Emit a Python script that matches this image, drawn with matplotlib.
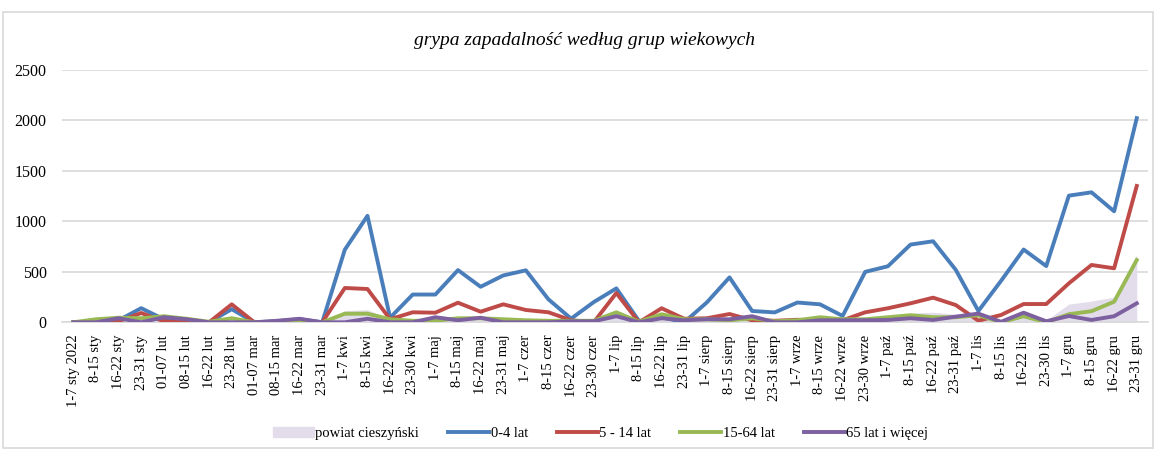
import matplotlib.pyplot as plt
from matplotlib.patches import Rectangle
from matplotlib.lines import Line2D

plt.rcParams['font.family'] = ['Liberation Serif', 'DejaVu Serif']

weeks = ["1-7 sty 2022", "8-15 sty", "16-22 sty", "23-31 sty", "01-07 lut", "08-15 lut",
         "16-22 lut", "23-28 lut", "01-07 mar", "08-15 mar", "16-22 mar", "23-31 mar",
         "1-7 kwi", "8-15 kwi", "16-22 kwi", "23-30 kwi", "1-7 maj", "8-15 maj",
         "16-22 maj", "23-31 maj", "1-7 czer", "8-15 czer", "16-22 czer", "23-30 czer",
         "1-7 lip", "8-15 lip", "16-22 lip", "23-31 lip", "1-7 sierp", "8-15 sierp",
         "16-22 sierp", "23-31 sierp", "1-7 wrze", "8-15 wrze", "16-22 wrze", "23-30 wrze",
         "1-7 paź", "8-15 paź", "16-22 paź", "23-31 paź", "1-7 lis", "8-15 lis",
         "16-22 lis", "23-30 lis", "1-7 gru", "8-15 gru", "16-22 gru", "23-31 gru"]

powiat = [0, 30, 45, 45, 60, 40, 5, 45, 0, 10, 20, 0,
          115, 125, 35, 30, 55, 50, 55, 45, 30, 20, 20, 20,
          110, 10, 95, 35, 35, 35, 50, 15, 25, 55, 35, 40,
          60, 90, 100, 80, 70, 10, 80, 20, 180, 210, 250, 670]
age_0_4 = [0, 5, 20, 140, 30, 20, 0, 130, 0, 10, 30, 0,
           720, 1055, 45, 275, 275, 517, 352, 464, 515, 227, 36, 200,
           336, 13, 50, 0, 197, 445, 112, 98, 196, 178, 63, 500,
           555, 770, 803, 520, 112, 410, 721, 557, 1255, 1288, 1100, 2023]
age_5_14 = [0, 0, 10, 92, 10, 5, 0, 178, 0, 0, 10, 0,
            340, 330, 30, 99, 95, 194, 105, 178, 122, 99, 20, 0,
            290, 0, 139, 35, 40, 82, 20, 15, 25, 20, 20, 99,
            139, 188, 244, 171, 16, 72, 181, 181, 386, 568, 535, 1351]
age_15_64 = [0, 30, 45, 40, 60, 35, 5, 40, 0, 5, 10, 0,
             85, 85, 30, 15, 15, 40, 40, 30, 20, 15, 15, 15,
             99, 5, 80, 30, 30, 20, 40, 10, 20, 50, 30, 30,
             50, 70, 50, 50, 70, 0, 60, 0, 80, 110, 204, 617]
age_65 = [0, 0, 40, 0, 50, 30, 0, 0, 0, 15, 35, 0,
          0, 35, 0, 0, 50, 20, 45, 0, 0, 0, 10, 10,
          60, 0, 40, 20, 30, 30, 60, 0, 0, 20, 20, 20,
          23, 40, 23, 56, 86, 5, 95, 10, 62, 23, 60, 188]

x = list(range(len(weeks)))

fig = plt.figure(figsize=(11.55, 4.5), dpi=100)
fig.patches.append(Rectangle((0.003, 0.004), 0.995, 0.969, transform=fig.transFigure,
                             fill=False, edgecolor='#d9d9d9', linewidth=1.2))
ax = fig.add_axes([0.0537, 0.2838, 0.9403, 0.5606])

ax.fill_between(x, powiat, 0, color='#e3dcea', linewidth=0, zorder=1)
ax.plot(x, age_0_4, color='#4a7ebb', lw=2.8, zorder=3)
ax.plot(x, age_5_14, color='#be4b48', lw=2.8, zorder=4)
ax.plot(x, age_15_64, color='#98b954', lw=2.8, zorder=5)
ax.plot(x, age_65, color='#7d60a0', lw=2.8, zorder=6)

ax.set_xlim(-0.5, len(weeks) - 0.5)
ax.set_ylim(0, 2500)
ax.set_yticks([0, 500, 1000, 1500, 2000, 2500])
ax.yaxis.grid(True, color='#d9d9d9', lw=1.2)
ax.set_axisbelow(True)
for s in ['top', 'right', 'left']:
    ax.spines[s].set_visible(False)
ax.spines['bottom'].set_color('#d9d9d9')
ax.spines['bottom'].set_linewidth(1.2)
ax.set_xticks(x)
ax.set_xticklabels(weeks, rotation=90, fontsize=10.5)
ax.tick_params(axis='both', length=0, colors='#000000')
ax.tick_params(axis='x', labelsize=10.5, pad=9)
ax.tick_params(axis='y', labelsize=11.5, pad=11)

fig.text(0.506, 0.91, "grypa zapadalność według grup wiekowych", ha='center', va='center',
         fontsize=14, style='italic')

handles = [Rectangle((0, 0), 1, 1, color='#e3dcea'),
           Line2D([], [], color='#4a7ebb', lw=2.8),
           Line2D([], [], color='#be4b48', lw=2.8),
           Line2D([], [], color='#98b954', lw=2.8),
           Line2D([], [], color='#7d60a0', lw=2.8)]
labels = ["powiat cieszyński", "0-4 lat", "5 - 14 lat", "15-64 lat", "65 lat i więcej"]
fig.legend(handles, labels, loc='center', bbox_to_anchor=(0.52, 0.037), ncol=5,
           frameon=False, fontsize=10.5, handlelength=2.8, handletextpad=0.1,
           columnspacing=2.0)

fig.savefig("out.png", dpi=100)
